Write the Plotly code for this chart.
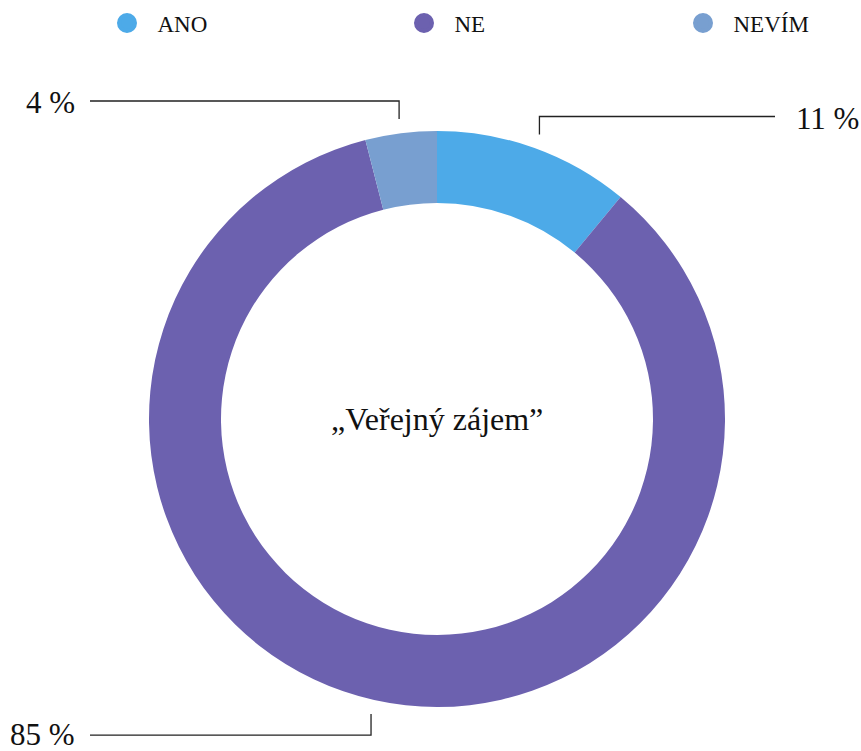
import math
import plotly.graph_objects as go

# ---- data ----
categories = ["ANO", "NE", "NEVÍM"]
values = [11, 85, 4]
value_labels = ["11 %", "85 %", "4 %"]
center_title = "„Veřejný zájem”"

# ---- style ----
colors = ["#4DAAE8", "#6C61AF", "#789FD0"]
W, H = 861, 751
CX, CY, R = 437, 419, 288          # donut centre / outer radius in px
HOLE = 0.75
FONT = "Liberation Serif"
legend_sym_px = [127, 424, 703]    # legend symbol centres (px)
ITEMW = 51
LEG_SYM_OFF = ITEMW / 2 + 5        # symbol centre offset inside legend box
LEG_Y_PX = 23
elbow_len = [18, 21, 18]           # vertical leader segment length (px)
LEFT_END, RIGHT_END = 90, 775
LINE_R = 1.05

def px(x):
    return x / W

def py(y):
    return 1 - y / H

fig = go.Figure()
fig.add_trace(go.Pie(
    labels=categories, values=values, hole=HOLE, sort=False,
    direction="clockwise", rotation=0,
    marker=dict(colors=colors, line=dict(width=0)),
    textinfo="none", showlegend=False,
    domain=dict(x=[px(CX - R), px(CX + R)], y=[py(CY + R), py(CY - R)]),
))

# legend entries (circle markers)
legend_names = ["legend", "legend2", "legend3"]
for i, (cat, col) in enumerate(zip(categories, colors)):
    fig.add_trace(go.Scatter(
        x=[None], y=[None], mode="markers", name=cat,
        marker=dict(symbol="circle", size=20, color=col,
                    line=dict(color=col, width=4)),
        legend=legend_names[i], showlegend=True,
    ))

# leader lines and value labels, derived from the data
total = sum(values)
cum = 0
shapes = []
annotations = []
for i, v in enumerate(values):
    mid = (cum + v / 2) / total
    cum += v
    th = 2 * math.pi * mid
    sx = CX + LINE_R * R * math.sin(th)
    sy = CY - LINE_R * R * math.cos(th)
    top = math.cos(th) > 0
    ey = sy - elbow_len[i] if top else sy + elbow_len[i]
    right = math.sin(th) > 0
    ex = RIGHT_END if right else LEFT_END
    shapes.append(dict(
        type="path", xref="paper", yref="paper",
        path=f"M {px(sx)} {py(sy)} L {px(sx)} {py(ey)} L {px(ex)} {py(ey)}",
        line=dict(color="#222222", width=1.3),
    ))
    annotations.append(dict(
        x=px(ex), y=py(ey), xref="paper", yref="paper",
        text=value_labels[i], showarrow=False,
        xanchor="left" if right else "right", yanchor="middle",
        xshift=19 if right else -13, yshift=-2 if top else 1,
        font=dict(family=FONT, size=31, color="#111111"),
    ))

annotations.append(dict(
    x=px(CX), y=py(CY), xref="paper", yref="paper",
    text=center_title, showarrow=False,
    xanchor="center", yanchor="middle",
    font=dict(family=FONT, size=32, color="#111111"),
))

layout_legends = {}
for i, name in enumerate(legend_names):
    layout_legends[name] = dict(
        x=px(legend_sym_px[i] - LEG_SYM_OFF), y=py(LEG_Y_PX),
        xanchor="left", yanchor="middle",
        orientation="h", itemwidth=ITEMW,
        font=dict(family=FONT, size=23, color="#111111"),
        bgcolor="rgba(0,0,0,0)", borderwidth=0,
        itemclick=False, itemdoubleclick=False,
    )

fig.update_layout(
    width=W, height=H,
    margin=dict(l=0, r=0, t=0, b=0, autoexpand=False),
    paper_bgcolor="white", plot_bgcolor="white",
    xaxis=dict(visible=False), yaxis=dict(visible=False),
    shapes=shapes, annotations=annotations,
    **layout_legends,
)

fig.write_html(
    "out.html",
    config={"displayModeBar": False},
    post_script="document.body.style.margin='0';document.body.style.overflow='hidden';",
)
